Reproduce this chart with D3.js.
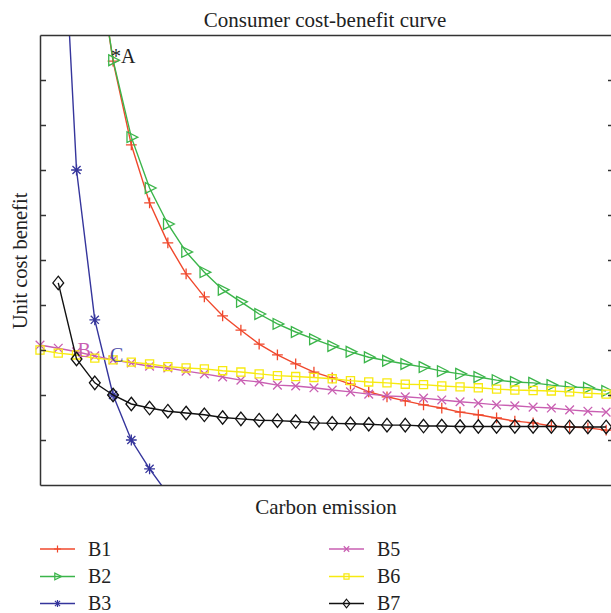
<!DOCTYPE html>
<html>
<head>
<meta charset="utf-8">
<script src="https://cdn.jsdelivr.net/npm/d3@7"></script>
<style>
  body { margin: 0; background: #fff; }
  text { font-family: "Liberation Serif", "DejaVu Serif", serif; fill: #222; }
</style>
</head>
<body>
<svg id="chart"></svg>
<script>
// sample index (position along carbon emission axis) of the first value of each series
const b1Start = 3, b2Start = 3, b3Start = 1, b5Start = 0, b6Start = 0, b7Start = 1;

const b1 = [12.1, 9.42, 7.56, 6.27, 5.38, 4.69, 4.18, 3.76, 3.44, 3.13, 2.89, 2.69, 2.51, 2.38, 2.24,
  2.07, 1.96, 1.87, 1.78, 1.71, 1.62, 1.56, 1.49, 1.42, 1.38, 1.31, 1.29, 1.27, 1.22];
const b2 = [12.1, 9.44, 7.73, 6.6, 5.8, 5.18, 4.73, 4.34, 4.07, 3.8, 3.58, 3.4, 3.24, 3.09, 2.96,
  2.84, 2.76, 2.69, 2.62, 2.53, 2.47, 2.4, 2.33, 2.29, 2.27, 2.22, 2.18, 2.16, 2.09];
const b3 = [14.8, 7.0, 3.67, 2.0, 1.0, 0.36, -0.2];
const b5 = [3.11, 3.04, 2.96, 2.87, 2.78, 2.71, 2.64, 2.6, 2.53, 2.47, 2.4, 2.33, 2.29, 2.22, 2.2, 2.16,
  2.11, 2.07, 2.02, 1.98, 1.96, 1.93, 1.89, 1.85, 1.82, 1.78, 1.76, 1.73, 1.71, 1.67, 1.64, 1.62];
const b6 = [3.0, 2.93, 2.89, 2.82, 2.78, 2.73, 2.69, 2.63, 2.6, 2.58, 2.54, 2.51, 2.47, 2.43, 2.41, 2.39,
  2.36, 2.32, 2.29, 2.27, 2.24, 2.23, 2.2, 2.18, 2.16, 2.13, 2.11, 2.1, 2.09, 2.07, 2.04, 2.02];
const b7 = [4.49, 2.8, 2.27, 2.0, 1.8, 1.71, 1.64, 1.6, 1.56, 1.5, 1.47, 1.44, 1.43, 1.41, 1.38, 1.37,
  1.36, 1.35, 1.33, 1.33, 1.31, 1.31, 1.3, 1.3, 1.3, 1.3, 1.3, 1.3, 1.29, 1.29, 1.29];

const seriesNames = ['B1', 'B2', 'B3', 'B5', 'B6', 'B7'];
const seriesColors = ['#f0482c', '#3bb54a', '#35359c', '#c95fb2', '#f7ea10', '#111111'];
const seriesMarkers = ['plus', 'triangle', 'star', 'cross', 'square', 'diamond'];
const yTicks = [1, 2, 3, 4, 5, 6, 7, 8, 9];

const width = 611, height = 613;
const margin = {top: 35, right: -3, bottom: 128, left: 40};
const innerW = width - margin.left - margin.right;
const innerH = height - margin.top - margin.bottom;

const series = [
  {start: b1Start, values: b1}, {start: b2Start, values: b2}, {start: b3Start, values: b3},
  {start: b5Start, values: b5}, {start: b6Start, values: b6}, {start: b7Start, values: b7}
].map((s, k) => ({
  name: seriesNames[k], color: seriesColors[k], marker: seriesMarkers[k],
  points: s.values.map((v, i) => ({x: s.start + i, y: v}))
}));

// marker outlines, r = half size
function markerPath(type, r) {
  const p = d3.path();
  if (type === 'plus') {
    p.moveTo(-r, 0); p.lineTo(r, 0); p.moveTo(0, -r); p.lineTo(0, r);
  } else if (type === 'cross') {
    const a = r * 0.8;
    p.moveTo(-a, -a); p.lineTo(a, a); p.moveTo(-a, a); p.lineTo(a, -a);
  } else if (type === 'star') {
    const a = r * 0.75;
    p.moveTo(-r, 0); p.lineTo(r, 0); p.moveTo(0, -r); p.lineTo(0, r);
    p.moveTo(-a, -a); p.lineTo(a, a); p.moveTo(-a, a); p.lineTo(a, -a);
  } else if (type === 'square') {
    p.rect(-r * 0.75, -r * 0.75, r * 1.5, r * 1.5);
  } else if (type === 'diamond') {
    p.moveTo(0, -r * 1.25); p.lineTo(r, 0); p.lineTo(0, r * 1.25); p.lineTo(-r, 0); p.closePath();
  } else if (type === 'triangle') {
    p.moveTo(-r * 0.8, -r); p.lineTo(r * 1.2, 0); p.lineTo(-r * 0.8, r); p.closePath();
  }
  return p.toString();
}

const svg = d3.select('#chart').attr('width', width).attr('height', height);
const chart = svg.append('g').attr('transform', `translate(${margin.left},${margin.top})`);

const xScale = d3.scaleLinear().domain([0, 31.43]).range([0, innerW]);
const yScale = d3.scaleLinear().domain([0, 10]).range([innerH, 0]);

chart.append('clipPath').attr('id', 'plot-clip')
  .append('rect').attr('x', -10).attr('y', 0).attr('width', innerW + 20).attr('height', innerH);

const plot = chart.append('g').attr('clip-path', 'url(#plot-clip)');

const line = d3.line().x(d => xScale(d.x)).y(d => yScale(d.y));

series.forEach(s => {
  plot.append('path')
    .datum(s.points)
    .attr('fill', 'none')
    .attr('stroke', s.color)
    .attr('stroke-width', 1.4)
    .attr('d', line);
  plot.selectAll(null)
    .data(s.points)
    .join('path')
    .attr('transform', d => `translate(${xScale(d.x)},${yScale(d.y)})`)
    .attr('d', markerPath(s.marker, 5.4))
    .attr('fill', 'none')
    .attr('stroke', s.color)
    .attr('stroke-width', 1.3);
});

// frame: ticks point inward, no labels
const axisColor = '#333';
const leftAxis = d3.axisLeft(yScale).tickValues(yTicks).tickSize(-6).tickSizeOuter(0).tickFormat('');
const rightAxis = d3.axisRight(yScale).tickValues(yTicks).tickSize(-6).tickSizeOuter(0).tickFormat('');
const bottomAxis = d3.axisBottom(xScale).tickValues([]).tickSizeOuter(0);
const topAxis = d3.axisTop(xScale).tickValues([]).tickSizeOuter(0);

chart.append('g').call(leftAxis);
chart.append('g').attr('transform', `translate(${innerW},0)`).call(rightAxis);
chart.append('g').attr('transform', `translate(0,${innerH})`).call(bottomAxis);
chart.append('g').call(topAxis);
chart.selectAll('.domain, .tick line').attr('stroke', axisColor).attr('stroke-width', 1.5);

// annotations
chart.append('text').attr('x', xScale(4) - 2).attr('y', 28).attr('font-size', 20).text('*A');
chart.append('text').attr('x', xScale(2) + 1).attr('y', 322).attr('font-size', 20)
  .style('fill', '#c95fb2').text('B');
chart.append('text').attr('x', xScale(4) - 3).attr('y', 327).attr('font-size', 20)
  .style('fill', '#4c4ca8').text('C');

// titles
svg.append('text').attr('x', 325).attr('y', 27).attr('text-anchor', 'middle')
  .attr('font-size', 21).text('Consumer cost-benefit curve');
svg.append('text').attr('x', 326).attr('y', 514).attr('text-anchor', 'middle')
  .attr('font-size', 21).text('Carbon emission');
svg.append('text').attr('transform', 'translate(27,261) rotate(-90)').attr('text-anchor', 'middle')
  .attr('font-size', 20.5).text('Unit cost benefit');

// legend, two columns
const legend = svg.append('g');
const legendPos = [[40, 549], [40, 576.5], [40, 603.5], [329, 549], [329, 576.5], [329, 603.5]];
series.forEach((s, k) => {
  const [lx, ly] = legendPos[k];
  const g = legend.append('g').attr('transform', `translate(${lx},${ly})`);
  g.append('line').attr('x1', 0).attr('x2', 35).attr('stroke', s.color).attr('stroke-width', 1.4);
  g.append('path').attr('transform', 'translate(17.5,0)').attr('d', markerPath(s.marker, 3.4))
    .attr('fill', 'none').attr('stroke', s.color).attr('stroke-width', 1.2);
  g.append('text').attr('x', 48).attr('y', 6.5).attr('font-size', 20).text(s.name);
});
</script>
</body>
</html>
